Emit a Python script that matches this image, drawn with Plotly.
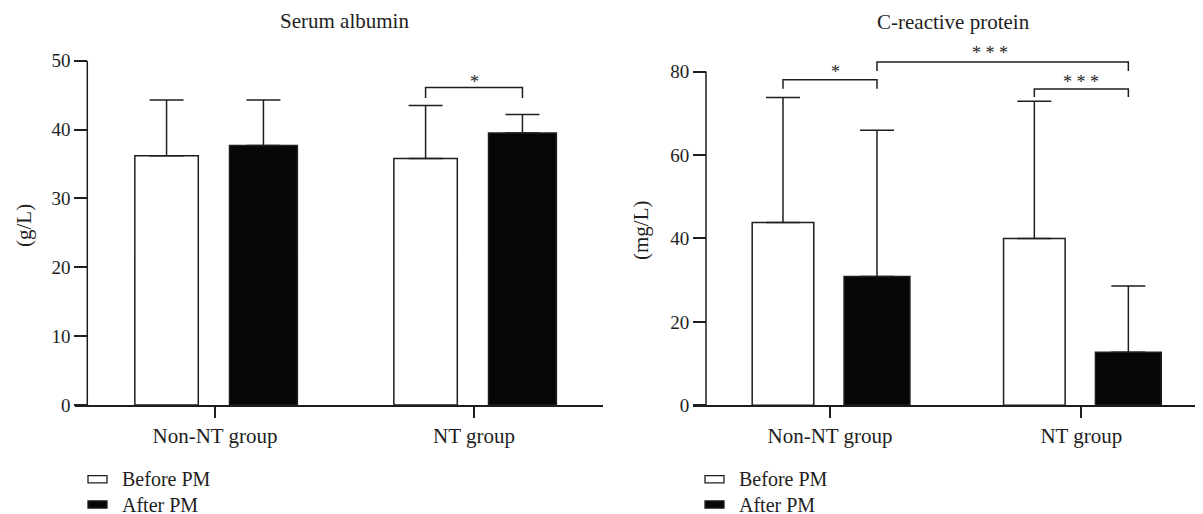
import plotly.graph_objects as go

# ---------------- data ----------------
groups = ["Non-NT group", "NT group"]
series = ["Before PM", "After PM"]

alb_before = [36.2, 35.8]
alb_before_sd = [8.1, 7.7]
alb_after = [37.7, 39.5]
alb_after_sd = [6.6, 2.7]

crp_before = [43.8, 40.0]
crp_before_sd = [30.0, 32.9]
crp_after = [30.9, 12.7]
crp_after_sd = [35.0, 15.9]

alb_ticks = [0, 10, 20, 30, 40, 50]
crp_ticks = [0, 20, 40, 60, 80]

# significance brackets: (group a, series a, group b, series b, bracket top, leg end, star height, label)
alb_sig = [
    ("NT group", "Before PM", "NT group", "After PM", 46.1, 44.6, 47.3, "*"),
]
crp_sig = [
    ("Non-NT group", "Before PM", "Non-NT group", "After PM", 78.0, 75.9, 80.5, "*"),
    ("Non-NT group", "After PM", "NT group", "After PM", 82.3, 80.1, 85.1, "* * *"),
    ("NT group", "Before PM", "NT group", "After PM", 75.8, 73.9, 78.1, "* * *"),
]

# ---------------- style ----------------
W, H = 1203, 514
PAGE_OFFSET = 8  # default page margin around the figure
FONT = "Liberation Serif"
INK = "#1e1e1e"
offsets = {"Before PM": -0.187, "After PM": 0.187}
widths = {"Before PM": 0.245, "After PM": 0.262}
fills = {"Before PM": "white", "After PM": "#060606"}
star_xshift_alb = [0]
star_xshift_crp = [6, -13, 0]


def px_x(p):
    return (p - PAGE_OFFSET) / W


def px_y(p):
    return 1 - (p - PAGE_OFFSET) / H


fig = go.Figure()


def add_panel(before, before_sd, after, after_sd, xa, ya):
    for name, vals, sd in [("Before PM", before, before_sd), ("After PM", after, after_sd)]:
        fig.add_trace(go.Bar(
            x=[i + offsets[name] for i in range(len(groups))],
            y=vals,
            width=[widths[name]] * len(groups),
            name=name,
            marker=dict(color=fills[name], line=dict(color=INK, width=1.5)),
            error_y=dict(type="data", array=sd, arrayminus=[0] * len(sd), symmetric=False,
                         color=INK, thickness=1.5, width=17),
            xaxis=xa, yaxis=ya, showlegend=False,
        ))


def add_brackets(sig, xa, ya, xshifts):
    for (ga, sa, gb, sb, top, leg, star_y, label), xs in zip(sig, xshifts):
        x0 = groups.index(ga) + offsets[sa]
        x1 = groups.index(gb) + offsets[sb]
        fig.add_trace(go.Scatter(
            x=[x0, x0, x1, x1], y=[leg, top, top, leg], mode="lines",
            line=dict(color=INK, width=1.5), showlegend=False, hoverinfo="skip",
            xaxis=xa, yaxis=ya,
        ))
        fig.add_annotation(x=(x0 + x1) / 2, y=star_y, xref=xa, yref=ya, text=label,
                           showarrow=False, yshift=-3, xshift=xs,
                           font=dict(family=FONT, size=18, color=INK))


add_panel(alb_before, alb_before_sd, alb_after, alb_after_sd, "x", "y")
add_panel(crp_before, crp_before_sd, crp_after, crp_after_sd, "x2", "y2")
add_brackets(alb_sig, "x", "y", star_xshift_alb)
add_brackets(crp_sig, "x2", "y2", star_xshift_crp)

xcommon = dict(showline=True, linecolor=INK, linewidth=1.5, ticks="outside", ticklen=11,
               tickwidth=1.5, tickcolor=INK, showgrid=False, zeroline=False,
               tickvals=list(range(len(groups))), ticktext=groups,
               tickfont=dict(family=FONT, size=21, color=INK))
ycommon = dict(showline=False, ticks="outside", ticklen=13, tickwidth=1.5, tickcolor=INK,
               showgrid=False, zeroline=False, anchor="free",
               tickfont=dict(family=FONT, size=19, color=INK))

left_axis_px = 87.3
right_axis_px = 706.0

shapes = [
    dict(type="line", xref="paper", yref="y", x0=px_x(left_axis_px), x1=px_x(left_axis_px),
         y0=alb_ticks[0], y1=alb_ticks[-1], line=dict(color=INK, width=1.5)),
    dict(type="line", xref="paper", yref="y2", x0=px_x(right_axis_px), x1=px_x(right_axis_px),
         y0=crp_ticks[0], y1=crp_ticks[-1], line=dict(color=INK, width=1.5)),
]

# legend below each panel: swatch + label for each series
legend_rows_px = [479.2, 504.5]
for box_left in [88, 705]:
    for name, row in zip(series, legend_rows_px):
        shapes.append(dict(type="rect", xref="paper", yref="paper",
                           x0=px_x(box_left), x1=px_x(box_left + 19),
                           y0=px_y(row + 3.6), y1=px_y(row - 3.6),
                           fillcolor=fills[name], line=dict(color=INK, width=1.3)))
        fig.add_annotation(x=px_x(box_left + 32), y=px_y(row), xref="paper", yref="paper",
                           text=name, showarrow=False, xanchor="left", yanchor="middle",
                           font=dict(family=FONT, size=20, color=INK))

fig.update_layout(
    width=W, height=H, margin=dict(l=0, r=0, t=0, b=0, autoexpand=False),
    paper_bgcolor="white", plot_bgcolor="white",
    barmode="overlay", showlegend=False,
    xaxis=dict(domain=[px_x(75), px_x(603)], range=[-0.5405, 1.498], anchor="y", **xcommon),
    yaxis=dict(domain=[px_y(405), px_y(60.7)], range=[0, 50], tickvals=alb_ticks,
               position=px_x(left_axis_px), **ycommon),
    xaxis2=dict(domain=[px_x(693), px_x(1203)], range=[-0.545, 1.484], anchor="y2", **xcommon),
    yaxis2=dict(domain=[px_y(405.3), px_y(29.8)], range=[0, 90], tickvals=crp_ticks,
                position=px_x(right_axis_px), **ycommon),
    shapes=shapes,
)

# panel titles and y-axis titles
for text, xp, yp in [("Serum albumin", 344, 21), ("C-reactive protein", 953, 22)]:
    fig.add_annotation(x=px_x(xp), y=px_y(yp), xref="paper", yref="paper", text=text,
                       showarrow=False, xanchor="center", yanchor="middle",
                       font=dict(family=FONT, size=21, color=INK))
for text, xp, yp in [("(g/L)", 24, 226), ("(mg/L)", 641, 231)]:
    fig.add_annotation(x=px_x(xp), y=px_y(yp), xref="paper", yref="paper", text=text,
                       showarrow=False, textangle=-90, xanchor="center", yanchor="middle",
                       font=dict(family=FONT, size=21, color=INK))

fig.write_html("out.html")
